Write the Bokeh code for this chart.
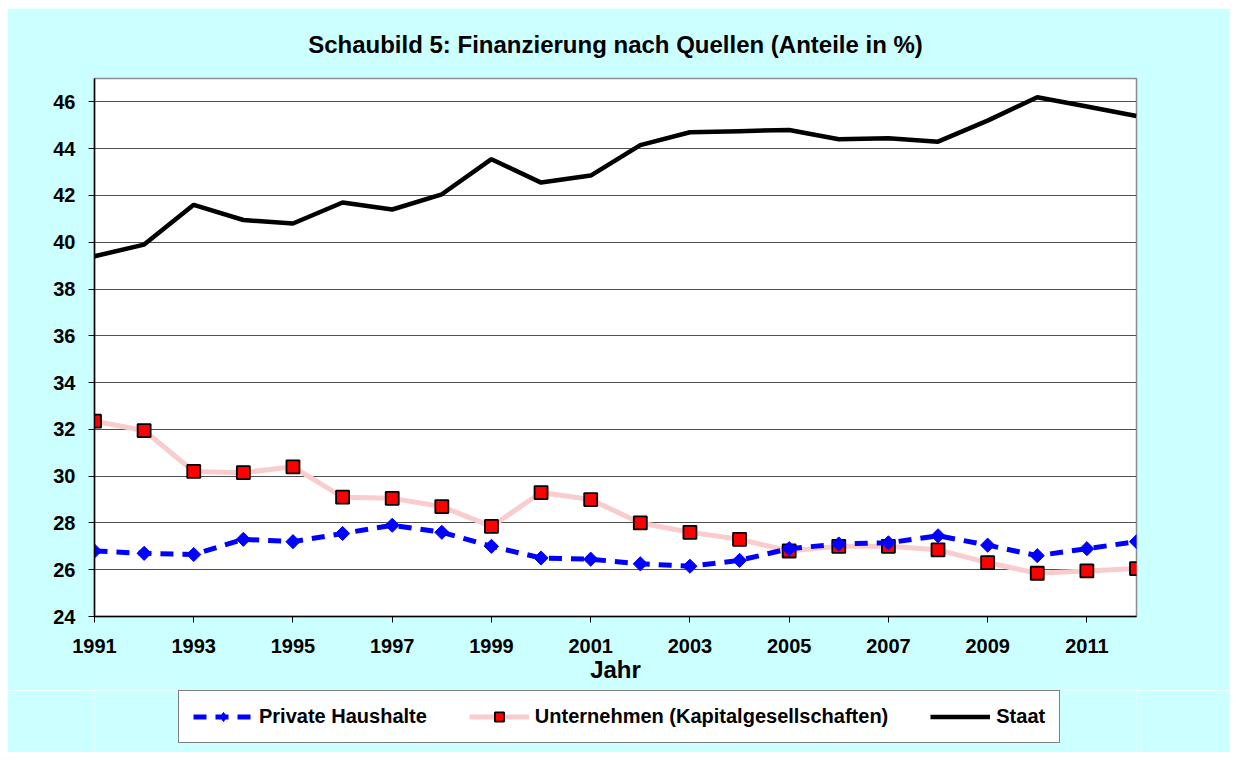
from bokeh.plotting import figure
from bokeh.models import Range1d, FixedTicker, Legend, LegendItem
from bokeh.layouts import column
from bokeh.embed import file_html
from bokeh.resources import INLINE
import math

years = list(range(1991, 2013))
private = [26.8, 26.7, 26.65, 27.3, 27.2, 27.55, 27.9, 27.6, 27.0, 26.5, 26.45,
           26.25, 26.15, 26.4, 26.9, 27.1, 27.15, 27.45, 27.05, 26.6, 26.9, 27.2]
unternehmen = [32.35, 31.95, 30.2, 30.15, 30.4, 29.1, 29.05, 28.7, 27.85, 29.3, 29.0,
               28.0, 27.6, 27.3, 26.8, 27.0, 27.0, 26.85, 26.3, 25.85, 25.95, 26.05]
staat = [39.4, 39.9, 41.6, 40.95, 40.8, 41.7, 41.4, 42.05, 43.55, 42.55, 42.85,
         44.15, 44.7, 44.75, 44.8, 44.4, 44.45, 44.3, 45.2, 46.2, 45.8, 45.4]
x_ticks = [1991, 1993, 1995, 1997, 1999, 2001, 2003, 2005, 2007, 2009, 2011]
y_ticks = [24, 26, 28, 30, 32, 34, 36, 38, 40, 42, 44, 46]
labels = ["Private Haushalte", "Unternehmen (Kapitalgesellschaften)", "Staat"]
title_text = "Schaubild 5: Finanzierung nach Quellen (Anteile in %)"

FONT = "Liberation Sans"
CYAN = "#CCFFFF"

# series styles
STYLE_P = dict(line_color="#0000FF", line_width=5, line_dash="13 9")
MARK_P = dict(marker="square", angle=math.pi / 4, size=10,
              fill_color="#0000FF", line_color="#0000FF", line_width=1)
MARK_P_LEG = dict(marker="diamond", size=15,
                  fill_color="#0000FF", line_color="#0000FF", line_width=1)
STYLE_U = dict(line_color="#F9CDCD", line_width=5)
MARK_U = dict(marker="square", size=13, fill_color="#FF0000",
              line_color="black", line_width=1.8)
STYLE_S = dict(line_color="black", line_width=4.5)

p = figure(frame_width=1042, frame_height=538, output_backend="svg", toolbar_location=None,
           x_range=Range1d(1991, 2012), y_range=Range1d(24, 47),
           background_fill_color="white", border_fill_color=CYAN,
           min_border_left=87, min_border_right=94, min_border_top=70,
           min_border_bottom=74)
p.margin = (8, 6, 0, 7)

p.title.text = title_text
p.title.align = "center"
p.title.text_font = FONT
p.title.text_font_size = "24px"
p.title.text_font_style = "bold"
p.title.text_color = "black"
p.title.standoff = 41

p.outline_line_color = "#8c8c8c"
p.outline_line_width = 1.5

p.xgrid.grid_line_color = None
p.ygrid.grid_line_color = "#505050"
p.ygrid.grid_line_width = 1

for ax in (p.xaxis[0], p.yaxis[0]):
    ax.major_label_text_font = FONT
    ax.major_label_text_font_size = "20px"
    ax.major_label_text_font_style = "bold"
    ax.major_label_text_color = "black"
    ax.axis_line_color = "black"
    ax.axis_line_width = 1.5
    ax.major_tick_line_color = "black"
    ax.major_tick_out = 6
    ax.major_tick_in = 0
    ax.minor_tick_line_color = None

p.xaxis.major_label_standoff = 16
p.yaxis.major_label_standoff = 13
p.xaxis.ticker = FixedTicker(ticks=x_ticks)
p.yaxis.ticker = FixedTicker(ticks=y_ticks)
p.xaxis.axis_label = "Jahr"
p.xaxis.axis_label_text_font = FONT
p.xaxis.axis_label_text_font_size = "24px"
p.xaxis.axis_label_text_font_style = "bold"
p.xaxis.axis_label_text_color = "black"
p.xaxis.axis_label_standoff = 0

p.line(years, unternehmen, **STYLE_U)
p.scatter(years, unternehmen, **MARK_U)
p.line(years, private, **STYLE_P)
p.scatter(years, private, **MARK_P)
p.line(years, staat, **STYLE_S)

# legend strip below the chart (frame aligned with the chart frame)
q = figure(frame_width=1042, frame_height=62, output_backend="svg", toolbar_location=None,
           x_range=Range1d(0, 1), y_range=Range1d(0, 1),
           x_axis_location=None, y_axis_location=None,
           background_fill_color=CYAN, border_fill_color=CYAN,
           min_border_left=87, min_border_right=94, min_border_top=0,
           min_border_bottom=0)
q.margin = (0, 6, 8, 7)
q.outline_line_color = None
q.grid.visible = False

# legend-only proxies, placed outside the visible range
hide_x = [-5, -4]
hide_y = [-5, -4]
ql_p = q.line(hide_x, hide_y, **STYLE_P)
qs_p = q.scatter(hide_x, hide_y, **MARK_P_LEG)
ql_u = q.line(hide_x, hide_y, **STYLE_U)
qs_u = q.scatter(hide_x, hide_y, **MARK_U)
ql_s = q.line(hide_x, hide_y, **STYLE_S)

legend = Legend(items=[
    LegendItem(label=labels[0], renderers=[ql_p, qs_p]),
    LegendItem(label=labels[1], renderers=[ql_u, qs_u]),
    LegendItem(label=labels[2], renderers=[ql_s]),
], orientation="horizontal", location=(84, 9))
legend.label_text_font = FONT
legend.label_text_font_size = "20px"
legend.label_text_font_style = "bold"
legend.label_text_color = "black"
legend.glyph_width = 60
legend.glyph_height = 23
legend.label_standoff = 6
legend.spacing = 42
legend.padding = 14
legend.margin = 0
legend.border_line_color = "black"
legend.border_line_width = 1.2
legend.background_fill_color = "white"
legend.background_fill_alpha = 1
q.add_layout(legend)

layout = column(p, q, spacing=0)
open("out.html", "w").write(file_html(layout, INLINE))
